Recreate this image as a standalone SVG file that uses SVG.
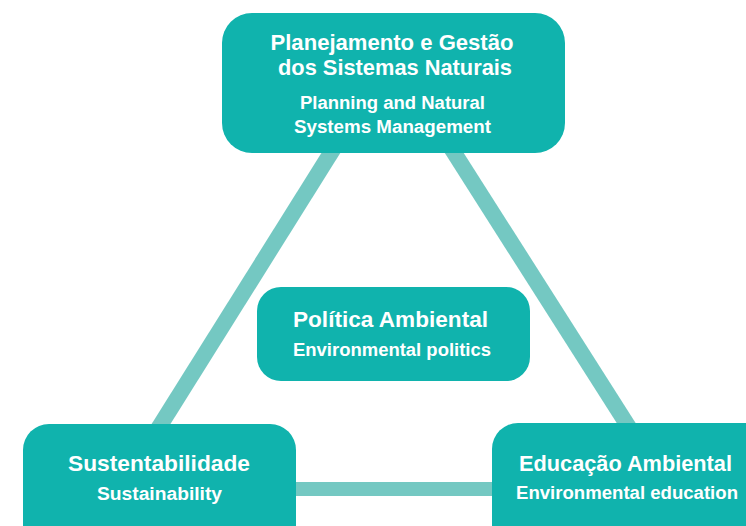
<svg xmlns="http://www.w3.org/2000/svg" width="746" height="526" viewBox="0 0 746 526">
<style>
.box{fill:#10b3ad}
.ln{stroke:#74c8c2;stroke-width:16;fill:none}
.t{font-family:"Liberation Sans","Open Sans",sans-serif;font-weight:700;fill:#fff;text-anchor:middle}
.h{font-size:21.5px}
.s{font-size:18px}
</style>
<rect width="746" height="526" fill="#fff"/>
<g id="connectors">
<line class="ln" x1="339" y1="140" x2="151" y2="440"/>
<line class="ln" x1="446" y1="140" x2="637" y2="440"/>
<line class="ln" x1="280" y1="489" x2="510" y2="489" style="stroke-width:14"/>
</g>
<g id="top">
<rect class="box" x="222" y="13" width="343" height="140" rx="30"/>
<text class="t h" x="392" y="50" textLength="243" lengthAdjust="spacingAndGlyphs">Planejamento e Gestão</text>
<text class="t h" x="395" y="75" textLength="234" lengthAdjust="spacingAndGlyphs">dos Sistemas Naturais</text>
<text class="t s" x="392.5" y="109" textLength="185" lengthAdjust="spacingAndGlyphs">Planning and Natural</text>
<text class="t s" x="392.5" y="133" textLength="197" lengthAdjust="spacingAndGlyphs">Systems Management</text>
</g>
<g id="center">
<rect class="box" x="257" y="287" width="273" height="94" rx="24"/>
<text class="t h" x="390.5" y="327" textLength="195" lengthAdjust="spacingAndGlyphs">Política Ambiental</text>
<text class="t s" x="392" y="356" textLength="198" lengthAdjust="spacingAndGlyphs">Environmental politics</text>
</g>
<g id="left">
<rect class="box" x="23" y="424" width="273" height="130" rx="26"/>
<text class="t h" x="159" y="471" textLength="182" lengthAdjust="spacingAndGlyphs">Sustentabilidade</text>
<text class="t s" x="159.5" y="500" textLength="125" lengthAdjust="spacingAndGlyphs">Sustainability</text>
</g>
<g id="right">
<rect class="box" x="492" y="423" width="280" height="130" rx="26"/>
<text class="t h" x="625.5" y="471" textLength="213" lengthAdjust="spacingAndGlyphs">Educação Ambiental</text>
<text class="t s" x="627" y="499" textLength="222" lengthAdjust="spacingAndGlyphs">Environmental education</text>
</g>
</svg>
